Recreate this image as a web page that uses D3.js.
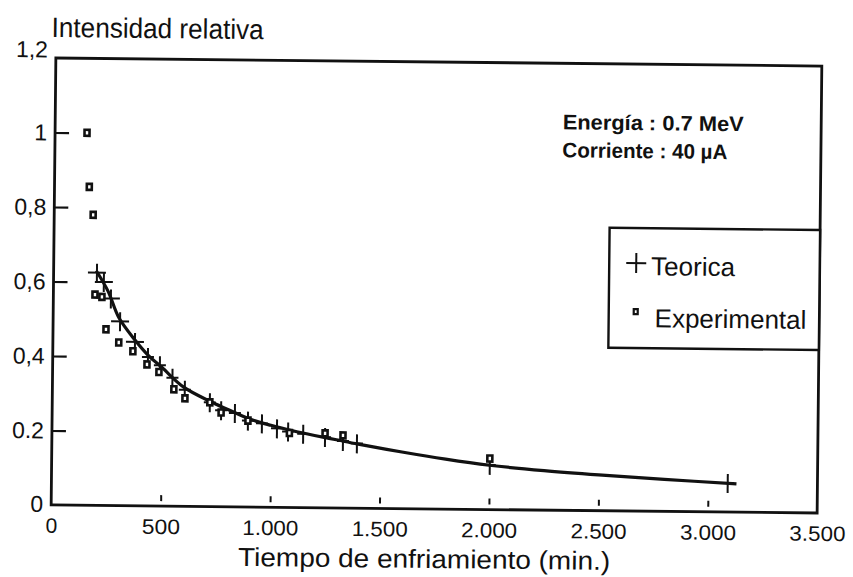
<!DOCTYPE html>
<html>
<head>
<meta charset="utf-8">
<script src="https://cdn.jsdelivr.net/npm/d3@7"></script>
<style>
  html, body { margin: 0; padding: 0; background: #fff; }
  svg { display: block; }
  text { font-family: "Liberation Sans", Arial, Helvetica, sans-serif; fill: #111; }
</style>
</head>
<body>
<svg id="chart" width="853" height="577"></svg>
<script>
// ---- data ----
const xTicks = [0, 500, 1000, 1500, 2000, 2500, 3000, 3500];
const xTickLabels = ["0", "500", "1.000", "1.500", "2.000", "2.500", "3.000", "3.500"];
const yTicks = [0, 0.2, 0.4, 0.6, 0.8, 1, 1.2];
const yTickLabels = ["0", "0.2", "0,4", "0,6", "0,8", "1", "1,2"];

// Theoretical curve (solid line)
const curveX = [195, 250, 300, 375, 435, 500, 600, 720, 800, 900, 1000, 1100, 1200, 1300, 1400, 1600, 1800, 2000, 2250, 2500, 2800, 3130];
const curveY = [0.63, 0.575, 0.505, 0.445, 0.405, 0.372, 0.32, 0.283, 0.262, 0.237, 0.220, 0.206, 0.194, 0.183, 0.172, 0.152, 0.134, 0.119, 0.106, 0.096, 0.086, 0.076];

// Theoretical points (+ markers)
const teoX = [198, 230, 263, 306, 375, 435, 490, 548, 605, 720, 772, 835, 895, 959, 1028, 1079, 1148, 1248, 1330, 1394, 2002, 3090];
const teoY = [0.625, 0.60, 0.556, 0.495, 0.44, 0.40, 0.378, 0.345, 0.313, 0.28, 0.259, 0.252, 0.232, 0.225, 0.212, 0.204, 0.198, 0.19, 0.18, 0.174, 0.12, 0.078];

// Experimental points (small squares)
const expX = [146, 159, 178, 190, 222, 242, 301, 366, 431, 486, 555, 606, 720, 772, 895, 1085, 1248, 1330, 2002];
const expY = [1.00, 0.855, 0.78, 0.566, 0.56, 0.473, 0.438, 0.415, 0.38, 0.36, 0.314, 0.29, 0.28, 0.253, 0.232, 0.20, 0.20, 0.195, 0.137];

const yTitle = "Intensidad relativa";
const xTitle = "Tiempo de enfriamiento (min.)";
const note1 = "Energía : 0.7 MeV";
const note2 = "Corriente : 40 \u00B5A";
const legendItems = ["Teorica", "Experimental"];

// ---- drawing ----
const svg = d3.select("#chart");
svg.append("rect").attr("width", 853).attr("height", 577).attr("fill", "#fff");

// the scanned figure is slightly skewed
const g = svg.append("g").attr("transform", "rotate(0.6 436 285)");

const L = 53.5, R = 819.5, T = 62, B = 509;
const x = d3.scaleLinear().domain([0, 3500]).range([L, R]);
const y = d3.scaleLinear().domain([0, 1.2]).range([B, T]);

// frame
g.append("rect").attr("x", L).attr("y", T).attr("width", R - L).attr("height", B - T)
  .attr("fill", "none").attr("stroke", "#111").attr("stroke-width", 2.8);

// y axis ticks (inward) + labels
const yAxis = d3.axisLeft(y).tickValues(yTicks).tickSize(-14).tickPadding(22)
  .tickFormat((d, i) => yTickLabels[i]);
const ya = g.append("g").attr("transform", `translate(${L},0)`).call(yAxis);
ya.select(".domain").remove();
ya.selectAll(".tick line").attr("stroke", "#111").attr("stroke-width", 2.2)
  .filter(d => d === 0 || d === 1.2).remove();
ya.selectAll(".tick text").attr("font-size", 23).attr("fill", "#111")
  .attr("font-family", "Liberation Sans, Arial, sans-serif").attr("x", -8)
  .attr("dy", d => d === 1.2 ? "-0.05em" : d === 0 ? "0.28em" : "0.32em");

// x axis ticks (small inward) + labels
const xAxis = d3.axisBottom(x).tickValues(xTicks).tickSize(0).tickPadding(0)
  .tickFormat((d, i) => xTickLabels[i]);
const xa = g.append("g").attr("transform", `translate(0,${B})`).call(xAxis);
xa.select(".domain").remove();
xa.selectAll(".tick text").attr("font-size", 21).attr("fill", "#111")
  .attr("font-family", "Liberation Sans, Arial, sans-serif").attr("y", 13).attr("dy", "0.71em")
  .each(function (d, i) {
    const s = xTickLabels[i];
    if (s.length === 5) d3.select(this).attr("textLength", 56).attr("lengthAdjust", "spacingAndGlyphs");
    if (s.length === 3) d3.select(this).attr("textLength", 38).attr("lengthAdjust", "spacingAndGlyphs");
  });
xa.selectAll(".tick").filter(d => d > 0 && d < 3500).append("line")
  .attr("y1", -5).attr("y2", -11).attr("stroke", "#111").attr("stroke-width", 2);

// theoretical curve
const curveData = curveX.map((v, i) => [v, curveY[i]]);
g.append("path").datum(curveData)
  .attr("d", d3.line().x(d => x(d[0])).y(d => y(d[1])).curve(d3.curveCatmullRom.alpha(0.5)))
  .attr("fill", "none").attr("stroke", "#111").attr("stroke-width", 3.2);

// theoretical markers (+ with vertical bar)
const teo = teoX.map((v, i) => [v, teoY[i]]);
const tg = g.append("g").selectAll("g").data(teo).join("g")
  .attr("transform", d => `translate(${x(d[0])},${y(d[1])})`);
tg.append("line").attr("x1", d => d[0] < 400 ? -9 : -6).attr("x2", d => d[0] < 400 ? 9 : 6)
  .attr("y1", 0).attr("y2", 0)
  .attr("stroke", "#111").attr("stroke-width", 2);
tg.append("line").attr("x1", 0).attr("x2", 0).attr("y1", -9).attr("y2", 10)
  .attr("stroke", "#111").attr("stroke-width", 2);

// experimental markers (small squares)
const exp = expX.map((v, i) => [v, expY[i]]);
g.append("g").selectAll("rect").data(exp).join("rect")
  .attr("x", d => x(d[0]) - 2.5).attr("y", d => y(d[1]) - 3)
  .attr("width", 5).attr("height", 6)
  .attr("fill", "#fff").attr("stroke", "#111").attr("stroke-width", 2.6);

// axis titles
g.append("text").attr("x", 49).attr("y", 41).attr("font-size", 28)
  .attr("font-family", "Liberation Sans Narrow, Liberation Sans, Arial, sans-serif")
  .attr("textLength", 212).attr("lengthAdjust", "spacingAndGlyphs").text(yTitle);
g.append("text").attr("x", 427).attr("y", 568).attr("font-size", 26)
  .attr("text-anchor", "middle").attr("textLength", 372).attr("lengthAdjust", "spacingAndGlyphs")
  .text(xTitle);

// annotation
g.append("text").attr("x", 561).attr("y", 128).attr("font-size", 21).attr("font-weight", "bold")
  .attr("textLength", 181).attr("lengthAdjust", "spacingAndGlyphs").text(note1);
g.append("text").attr("x", 561).attr("y", 156).attr("font-size", 21).attr("font-weight", "bold")
  .attr("textLength", 165).attr("lengthAdjust", "spacingAndGlyphs").text(note2);

// legend
const lg = g.append("g");
lg.append("rect").attr("x", 609).attr("y", 226).attr("width", R - 609).attr("height", 120)
  .attr("fill", "#fff").attr("stroke", "#111").attr("stroke-width", 2.4);
lg.append("line").attr("x1", 626).attr("x2", 646).attr("y1", 261).attr("y2", 261)
  .attr("stroke", "#111").attr("stroke-width", 2);
lg.append("line").attr("x1", 636).attr("x2", 636).attr("y1", 251).attr("y2", 271)
  .attr("stroke", "#111").attr("stroke-width", 2);
lg.append("text").attr("x", 651).attr("y", 273).attr("font-size", 26).text(legendItems[0]);
lg.append("rect").attr("x", 634).attr("y", 307).attr("width", 4).attr("height", 5)
  .attr("fill", "#fff").attr("stroke", "#111").attr("stroke-width", 2.2);
lg.append("text").attr("x", 655).attr("y", 325).attr("font-size", 26).text(legendItems[1]);
</script>
</body>
</html>
